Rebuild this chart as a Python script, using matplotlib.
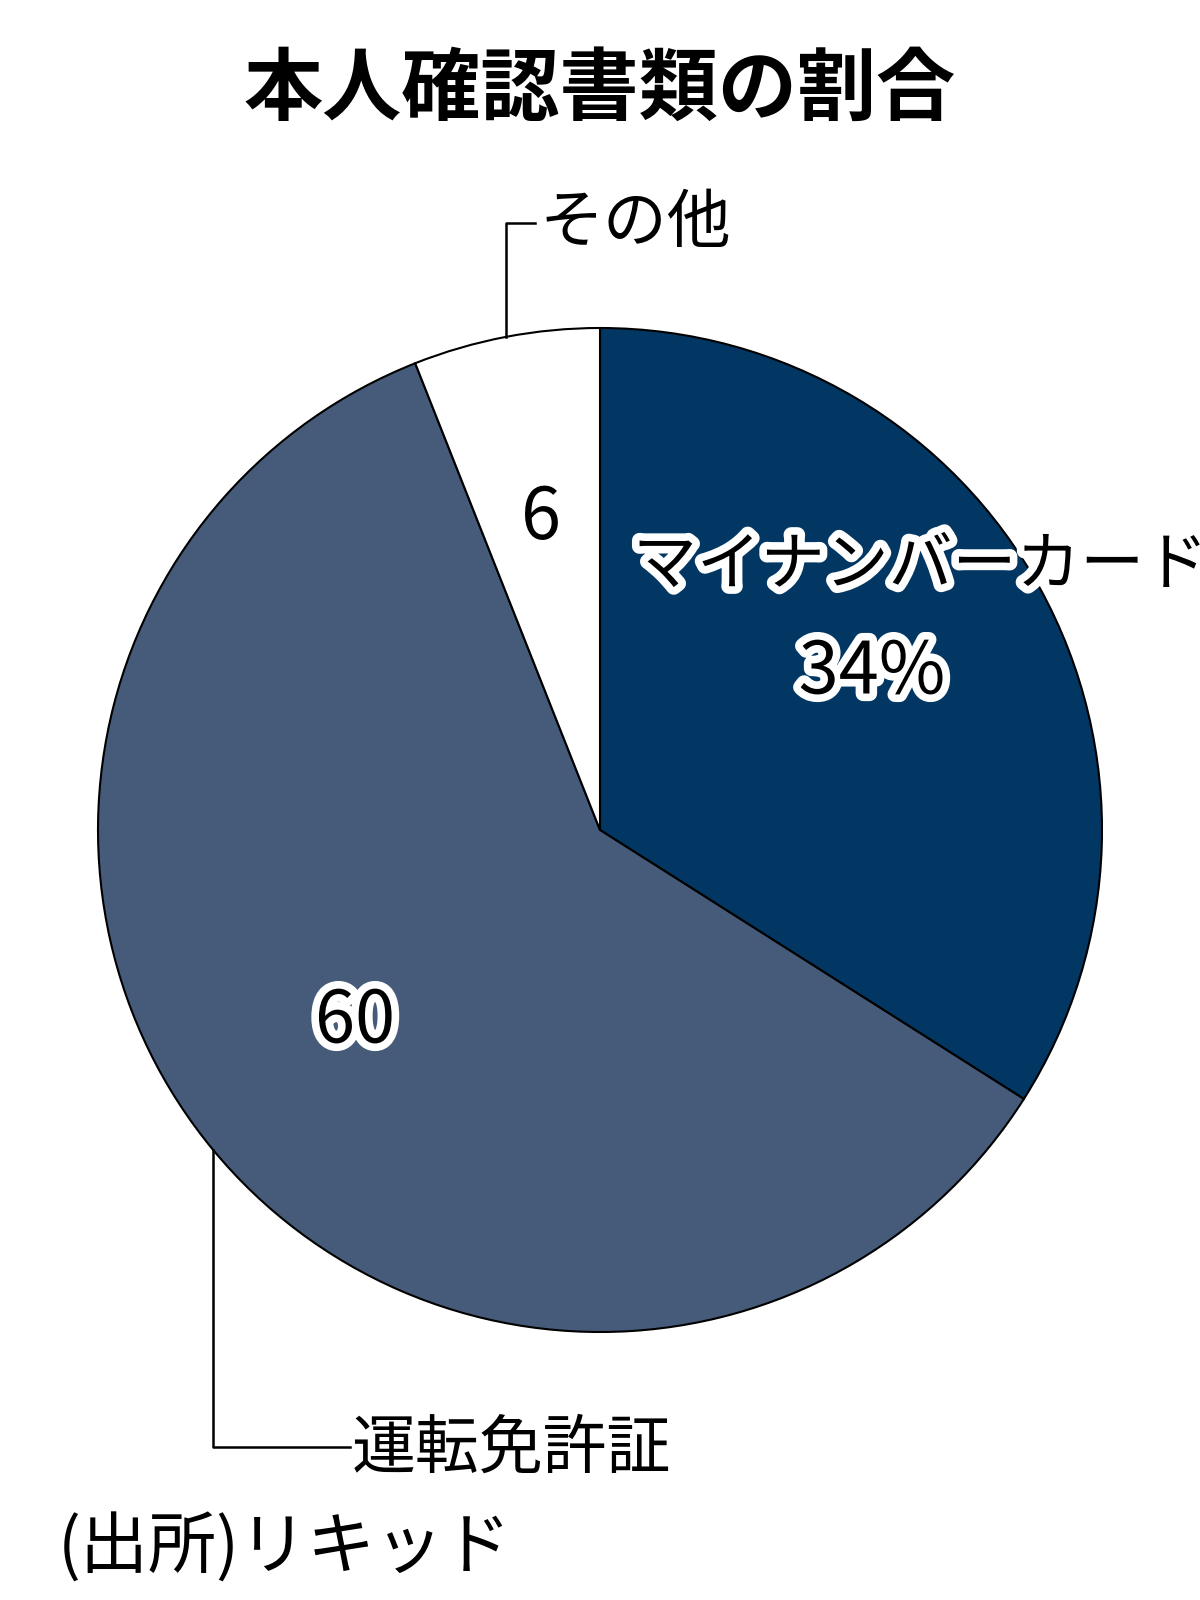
import numpy as np
import matplotlib.pyplot as plt
import matplotlib.patheffects as pe

plt.rcParams['font.family'] = ['Noto Sans CJK JP', 'DejaVu Sans']

# Data
labels = ['マイナンバーカード', '運転免許証', 'その他']
shares = [34, 60, 6]
colors = ['#023764', '#465b79', '#ffffff']
title = '本人確認書類の割合'
source = '(出所)リキッド'

W, H = 1200, 1600
cx, cy, r = 600, H - 830, 502

fig = plt.figure(figsize=(12, 16), dpi=100)
ax = fig.add_axes([0, 0, 1, 1])
ax.axis('off')

wedges, _ = ax.pie(shares, colors=colors, startangle=90, counterclock=False,
                   center=(cx, cy), radius=r,
                   wedgeprops=dict(edgecolor='black', linewidth=1.5))
ax.set_xlim(0, W)
ax.set_ylim(0, H)
ax.set_aspect('equal')

outline = [pe.withStroke(linewidth=11, foreground='white')]

# Title
ax.text(W / 2, H - 90, title, ha='center', va='center', fontsize=57,
        fontweight='bold')

# Inside labels
ax.text(633, H - 566, labels[0], ha='left', va='center', fontsize=46,
        path_effects=outline)
ax.text(872, H - 673, f'{shares[0]}%', ha='center', va='center', fontsize=52,
        path_effects=outline)
ax.text(355, H - 1022, f'{shares[1]}', ha='center', va='center', fontsize=52,
        path_effects=outline)
ax.text(541, H - 518, f'{shares[2]}', ha='center', va='center', fontsize=52)


def edge_y(x, top=True):
    d = np.sqrt(r ** 2 - (x - cx) ** 2)
    return cy + d if top else cy - d


# その他 leader
lx = 506
ax.plot([lx, lx, 535], [edge_y(lx), H - 223, H - 223], color='black', lw=1.8)
ax.text(540, H - 224, labels[2], ha='left', va='center', fontsize=46)

# 運転免許証 leader
lx2 = 213
ax.plot([lx2, lx2, 350], [edge_y(lx2, top=False), H - 1447, H - 1447],
        color='black', lw=1.8)
ax.text(352, H - 1449, labels[1], ha='left', va='center', fontsize=46)

# Source
ax.text(58, H - 1550, source, ha='left', va='center', fontsize=49)

fig.savefig('out.png', dpi=100, facecolor='white')
